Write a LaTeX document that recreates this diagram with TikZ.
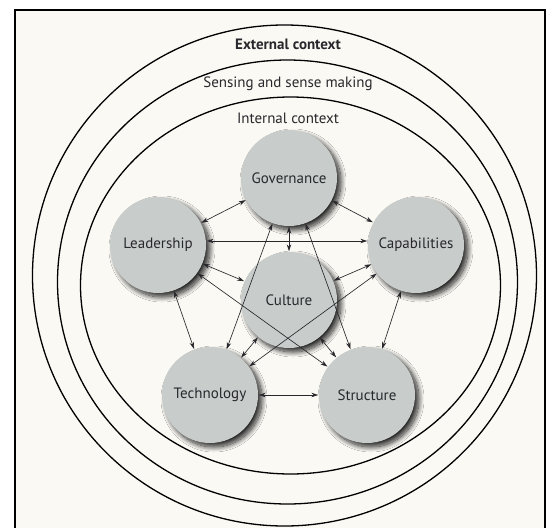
\documentclass[tikz,border=0pt]{standalone}
\usepackage{fontspec}
\setmainfont{PT Sans}
\usetikzlibrary{shadows.blur,arrows.meta}
\definecolor{paper}{RGB}{250,249,244}
\definecolor{spherefill}{RGB}{200,205,204}
\definecolor{inkgray}{RGB}{40,40,44}
\begin{document}
\begin{tikzpicture}[x=1pt,y=-1pt,
  sphere/.style={circle, minimum size=96pt, inner sep=0pt, fill=spherefill,
    blur shadow={shadow xshift=4pt, shadow yshift=-4pt, shadow blur radius=5pt,
      shadow opacity=85, shadow blur steps=14},
    font=\fontsize{15}{17}\selectfont, text=inkgray},
  ring/.style={line width=1.3pt, black},
  ringlabel/.style={font=\fontsize{15}{17}\selectfont, text=inkgray, inner sep=1pt},
  link/.style={<->, >={Stealth[length=7pt,width=4.5pt]}, line width=0.65pt, draw=inkgray,
    shorten <=0.5pt, shorten >=0.5pt}]
\useasboundingbox (0,0) rectangle (550,528);
\clip (0,0) rectangle (550,528);
\fill[white] (0,0) rectangle (550,528);
\fill[paper] (15,10) rectangle (545,540);
\draw[line width=1.5pt, black] (15,10) rectangle (545,540);
% rings
\coordinate (co) at (284.5,275.5);
\coordinate (cm) at (287.5,282);
\coordinate (ci) at (290.5,285.5);
\draw[ring] (co) ellipse [x radius=252, y radius=250.5];
\draw[ring] (cm) ellipse [x radius=230, y radius=222];
\draw[ring] (ci) ellipse [x radius=210, y radius=188.5];
\node[ringlabel, font=\fontsize{15}{17}\selectfont\bfseries] (ext) at (288,44) {External context};
\node[ringlabel] (sens) at (288,84) {Sensing and sense making};
\node[ringlabel] (int) at (288,118) {Internal context};
% spheres
\node[sphere] (gov) at (289,178) {Governance};
\node[sphere] (lead) at (158,245) {Leadership};
\node[sphere] (cap) at (416,245) {Capabilities};
\node[sphere] (cult) at (289,300) {Culture};
\node[sphere] (tech) at (210,395) {Technology};
\node[sphere] (str) at (367,395) {Structure};
% links
\draw[link] (gov) -- (lead);
\draw[link] (gov) -- (cap);
\draw[link] (gov) -- (cult);
\draw[link] (gov) -- (tech);
\draw[link] (gov) -- (str);
\draw[link] ([yshift=4pt]lead.east) -- ([yshift=4pt]cap.west);
\draw[link] (lead) -- (cult);
\draw[link] (cap) -- (cult);
\draw[link] (lead) -- (tech);
\draw[link] (lead) -- (str);
\draw[link] (cap) -- (str);
\draw[link] (cap) -- (tech);
\draw[link] (cult) -- (tech);
\draw[link] (cult) -- (str);
\draw[link] (tech) -- (str);
\end{tikzpicture}
\end{document}
